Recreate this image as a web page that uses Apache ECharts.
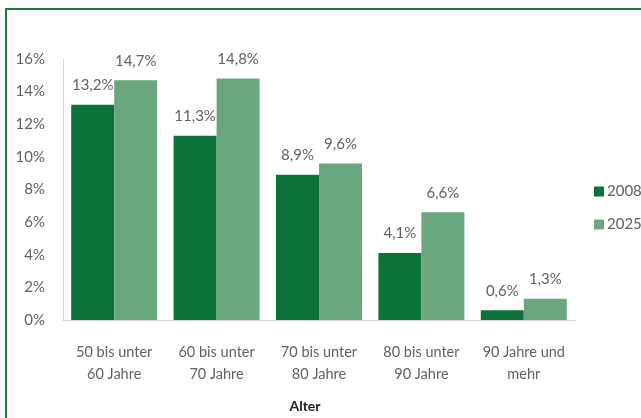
<!DOCTYPE html>
<html>
<head>
<meta charset="utf-8">
<script src="https://cdn.jsdelivr.net/npm/echarts@6/dist/echarts.min.js"></script>
<style>
  html, body { margin: 0; padding: 0; background: #fff; overflow: hidden; }
  #frame {
    position: absolute; left: 5px; top: 8px; width: 700px; height: 500px;
    border: 2px solid #1b7a44; box-sizing: border-box;
  }
  #chart { position: absolute; left: 0; top: 0; width: 641px; height: 418px; }
</style>
</head>
<body>
<div id="frame"></div>
<div id="chart"></div>
<script>
// age groups and shares (in %)
const categories = [
  '50 bis unter\n60 Jahre',
  '60 bis unter\n70 Jahre',
  '70 bis unter\n80 Jahre',
  '80 bis unter\n90 Jahre',
  '90 Jahre und\nmehr'
]
const values2008 = [13.2, 11.3, 8.9, 4.1, 0.6]
const values2025 = [14.7, 14.8, 9.6, 6.6, 1.3]
const yTicks = [0, 2, 4, 6, 8, 10, 12, 14, 16]

const textColor = '#626262'
const fontFamily = 'Lato, "Open Sans", sans-serif'
const fmt = v => v.toFixed(1).replace('.', ',') + '%'

const chart = echarts.init(document.getElementById('chart'))

const labelStyle = {
  show: true,
  position: 'top',
  distance: 12,
  color: textColor,
  fontSize: 15,
  fontFamily,
  formatter: p => fmt(p.value)
}

chart.setOption({
  animation: false,
  textStyle: { fontFamily },
  grid: { left: 63, top: 59, width: 512, height: 264, containLabel: false },
  legend: {
    orient: 'vertical',
    left: 589,
    top: 179,
    itemGap: 18,
    itemWidth: 10,
    itemHeight: 10,
    icon: 'rect',
    textStyle: { color: textColor, fontSize: 15, fontFamily, padding: [0, 0, 0, -2] },
    data: ['2008', '2025']
  },
  xAxis: {
    type: 'category',
    data: categories,
    name: 'Alter',
    nameLocation: 'middle',
    nameGap: 79,
    nameTextStyle: { color: '#222', fontWeight: 'bold', fontSize: 14, fontFamily, padding: [0, 28, 0, 0] },
    axisLine: { lineStyle: { color: '#d4d4d4', width: 1 } },
    axisTick: { show: false },
    axisLabel: {
      color: textColor,
      fontSize: 14.5,
      fontFamily,
      lineHeight: 22,
      margin: 21,
      interval: 0
    }
  },
  yAxis: {
    type: 'value',
    min: yTicks[0],
    max: yTicks[yTicks.length - 1],
    interval: 2,
    splitLine: { show: false },
    axisLine: { show: true, lineStyle: { color: '#d4d4d4', width: 1 } },
    axisTick: { show: false },
    axisLabel: {
      color: textColor,
      fontSize: 15,
      fontFamily,
      margin: 18,
      formatter: v => v + '%'
    }
  },
  series: [
    {
      name: '2008',
      type: 'bar',
      data: values2008,
      barGap: '0%',
      barCategoryGap: '16%',
      itemStyle: { color: '#0b723a' },
      label: labelStyle
    },
    {
      name: '2025',
      type: 'bar',
      data: values2025,
      itemStyle: { color: '#6aa67e' },
      label: labelStyle
    }
  ]
})
</script>
</body>
</html>
